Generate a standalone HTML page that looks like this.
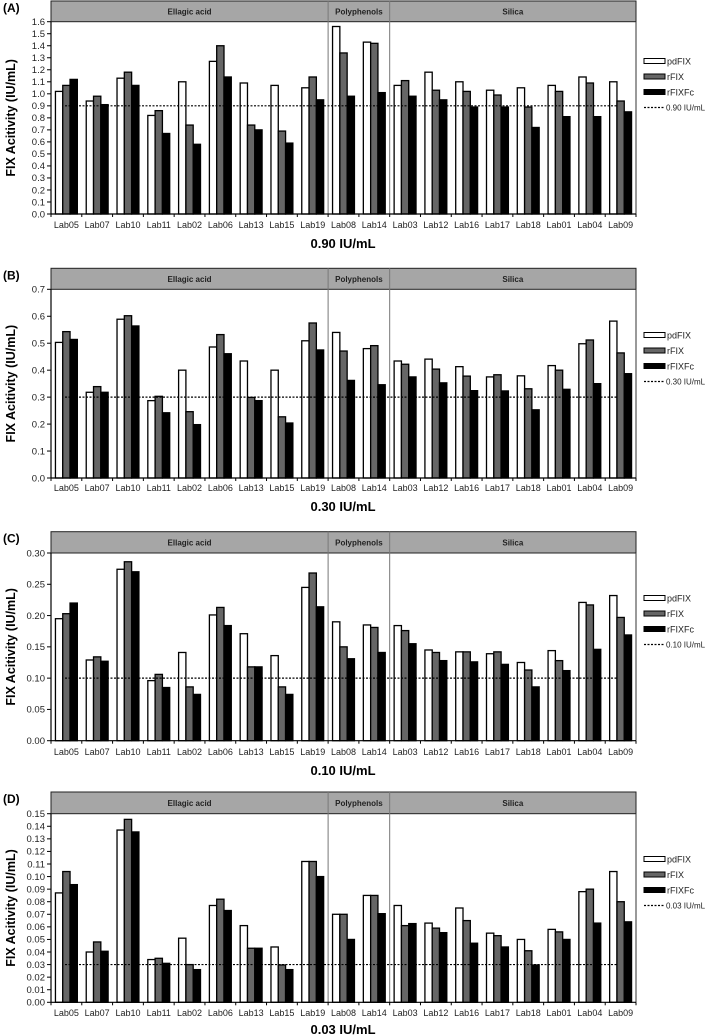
<!DOCTYPE html>
<html><head><meta charset="utf-8"><style>
body{margin:0;background:#fff;}
svg{display:block;font-family:"Liberation Sans",Arial,sans-serif;}
</style></head><body>
<svg id="chart" width="709" height="1036" viewBox="0 0 709 1036" xmlns="http://www.w3.org/2000/svg"></svg>
<script>
const categories = ["Lab05","Lab07","Lab10","Lab11","Lab02","Lab06","Lab13","Lab15","Lab19","Lab08","Lab14","Lab03","Lab12","Lab16","Lab17","Lab18","Lab01","Lab04","Lab09"];
const seriesNames = ["pdFIX","rFIX","rFIXFc"];
// Panel A (0.90 IU/mL)
const aPd = [1.02,0.94,1.13,0.82,1.10,1.27,1.09,1.07,1.05,1.56,1.43,1.07,1.18,1.10,1.03,1.05,1.07,1.14,1.10];
const aR  = [1.07,0.98,1.18,0.86,0.74,1.40,0.74,0.69,1.14,1.34,1.42,1.11,1.03,1.02,0.99,0.89,1.02,1.09,0.94];
const aFc = [1.12,0.91,1.07,0.67,0.58,1.14,0.70,0.59,0.95,0.98,1.01,0.98,0.95,0.89,0.89,0.72,0.81,0.81,0.85];
// Panel B (0.30 IU/mL)
const bPd = [0.503,0.318,0.589,0.287,0.400,0.486,0.434,0.400,0.509,0.540,0.480,0.434,0.441,0.413,0.375,0.379,0.417,0.498,0.582];
const bR  = [0.543,0.339,0.602,0.303,0.246,0.532,0.299,0.227,0.575,0.471,0.491,0.422,0.404,0.378,0.383,0.331,0.400,0.512,0.464];
const bFc = [0.514,0.318,0.564,0.242,0.198,0.461,0.287,0.204,0.475,0.362,0.346,0.375,0.353,0.324,0.323,0.253,0.329,0.350,0.387];
// Panel C (0.10 IU/mL)
const cPd = [0.195,0.129,0.274,0.096,0.141,0.201,0.171,0.136,0.245,0.190,0.185,0.184,0.145,0.142,0.139,0.125,0.144,0.221,0.232];
const cR  = [0.203,0.134,0.286,0.106,0.086,0.213,0.118,0.086,0.268,0.150,0.181,0.176,0.141,0.142,0.142,0.113,0.128,0.217,0.197];
const cFc = [0.220,0.127,0.270,0.085,0.074,0.184,0.118,0.074,0.214,0.131,0.141,0.155,0.128,0.126,0.122,0.086,0.112,0.146,0.169];
// Panel D (0.03 IU/mL)
const dPd = [0.087,0.040,0.137,0.034,0.051,0.077,0.061,0.044,0.112,0.070,0.085,0.077,0.063,0.075,0.055,0.050,0.058,0.088,0.104];
const dR  = [0.104,0.048,0.1455,0.035,0.030,0.082,0.043,0.0297,0.112,0.070,0.085,0.061,0.059,0.065,0.053,0.041,0.056,0.090,0.080];
const dFc = [0.0936,0.0406,0.1355,0.031,0.026,0.073,0.043,0.026,0.100,0.050,0.0705,0.0626,0.0554,0.047,0.044,0.0297,0.050,0.063,0.064];
const aTicks = ["0.0","0.1","0.2","0.3","0.4","0.5","0.6","0.7","0.8","0.9","1.0","1.1","1.2","1.3","1.4","1.5","1.6"];
const bTicks = ["0.0","0.1","0.2","0.3","0.4","0.5","0.6","0.7"];
const cTicks = ["0.00","0.05","0.10","0.15","0.20","0.25","0.30"];
const dTicks = ["0.00","0.01","0.02","0.03","0.04","0.05","0.06","0.07","0.08","0.09","0.10","0.11","0.12","0.13","0.14","0.15"];
const groups = ["Ellagic acid","Polyphenols","Silica"];
const groupSizes = [9,2,8];
const refValues = [0.90,0.30,0.10,0.03];
const refLabels = ["0.90 IU/mL","0.30 IU/mL","0.10 IU/mL","0.03 IU/mL"];
const panelLetters = ["(A)","(B)","(C)","(D)"];

const svg = document.getElementById('chart');
const NS = 'http://www.w3.org/2000/svg';
function mk(tag, attrs, parent, text){
  const e = document.createElementNS(NS, tag);
  for (const k in attrs) e.setAttribute(k, attrs[k]);
  if (text !== undefined) e.textContent = text;
  (parent || svg).appendChild(e);
  return e;
}
const X0 = 51, X1 = 636, N = categories.length, CW = (X1 - X0) / N, BW = 7.3;
const colors = ["#ffffff","#666666","#000000"];
const panels = [
  {hTop:1, top:21.7, zero:214, max:1.6, ticks:aTicks, data:[aPd,aR,aFc], labY:228, titleY:248, legY:61},
  {hTop:268.3, top:289.3, zero:478, max:0.7, ticks:bTicks, data:[bPd,bR,bFc], labY:491, titleY:511, legY:335},
  {hTop:531.7, top:553, zero:740.7, max:0.30, ticks:cTicks, data:[cPd,cR,cFc], labY:755, titleY:775, legY:598},
  {hTop:792, top:813.7, zero:1002.3, max:0.15, ticks:dTicks, data:[dPd,dR,dFc], labY:1016, titleY:1034, legY:859}
];
panels.forEach((p, pi) => {
  const g = mk('g', {});
  
  
  const yS = v => p.zero - v / p.max * (p.zero - p.top);
  const xC = i => X0 + CW * (i + 0.5);
  const pl = mk('text', {x:3, y:p.hTop + 11, 'font-size':12, 'font-weight':'bold'}, g, panelLetters[pi]);
  
  
  const hb = mk('rect', {x:X0, y:p.hTop, width:X1 - X0, height:p.top - p.hTop, fill:'#a6a6a6', stroke:'#222', 'stroke-width':1}, g);
  
  
  let start = 0;
  groups.forEach((gn, gi) => {
    const xa = X0 + start * CW, xb = X0 + (start + groupSizes[gi]) * CW;
    const t = mk('text', {x:(xa + xb) / 2, y:(p.hTop + p.top) / 2 + 3, 'font-size':8, 'font-weight':'bold', 'text-anchor':'middle', fill:'#222'}, g, gn);
    
    
    if (gi > 0) {
      const sl = mk('line', {x1:xa, x2:xa, y1:p.hTop, y2:p.zero, stroke:'#777', 'stroke-width':1}, g);
      
      
    }
    start += groupSizes[gi];
  });
  mk('line', {x1:X1, x2:X1, y1:p.top, y2:p.zero, stroke:'#333', 'stroke-width':1}, g);
  p.ticks.forEach((tl, ti) => {
    const y = p.zero - ti / (p.ticks.length - 1) * (p.zero - p.top);
    mk('line', {x1:47, x2:X0, y1:y, y2:y, stroke:'#000'}, g);
    const t = mk('text', {x:45, y:y + 3.3, 'font-size':9.5, 'text-anchor':'end', fill:'#222'}, g, tl);
    
    
  });
  const yt = mk('text', {x:0, y:0, 'font-size':12.5, 'font-weight':'bold', 'text-anchor':'middle', transform:`translate(15,${(p.top + p.zero) / 2}) rotate(-90)`}, g, 'FIX Acitivity (IU/mL)');
  
  
  p.data.forEach((arr, si) => {
    arr.forEach((v, i) => {
      const x = xC(i) - 1.5 * BW + si * BW;
      const y = yS(v);
      const r = mk('rect', {x:x, y:y, width:BW, height:p.zero - y, fill:colors[si], stroke:'#000', 'stroke-width':1.3}, g);
      
      
    });
  });
  const ry = yS(refValues[pi]);
  const rl = mk('line', {x1:65, x2:618, y1:ry, y2:ry, stroke:'#000', 'stroke-width':1.2, 'stroke-dasharray':'2,1.5'}, g);
  
  
  mk('line', {x1:X0, x2:X0, y1:p.top, y2:p.zero, stroke:'#000', 'stroke-width':1.2}, g);
  mk('line', {x1:X0, x2:X1, y1:p.zero, y2:p.zero, stroke:'#000', 'stroke-width':1.2}, g);
  for (let i = 0; i <= N; i++) {
    mk('line', {x1:X0 + i * CW, x2:X0 + i * CW, y1:p.zero, y2:p.zero + 3, stroke:'#000'}, g);
  }
  categories.forEach((c, i) => {
    const t = mk('text', {x:xC(i), y:p.labY, 'font-size':9, 'text-anchor':'middle', fill:'#222'}, g, c);
    
    
  });
  const tt = mk('text', {x:343, y:p.titleY, 'font-size':13, 'font-weight':'bold', 'text-anchor':'middle'}, g, refLabels[pi]);
  
  
  const lg = mk('g', {}, g);
  
  
  seriesNames.forEach((sn, si) => {
    const y = p.legY + si * 15.5;
    const sw = mk('rect', {x:644, y:y - 2.5, width:21, height:5, fill:colors[si], stroke:'#000', 'stroke-width':1}, lg);
    
    
    const t = mk('text', {x:667, y:y + 3.3, 'font-size':9, fill:'#222'}, lg, sn);
    
    
  });
  const ly = p.legY + 3 * 15.5;
  mk('line', {x1:644, x2:664, y1:ly, y2:ly, stroke:'#000', 'stroke-width':1.2, 'stroke-dasharray':'2,1.5'}, lg);
  const lt = mk('text', {x:666, y:ly + 3, 'font-size':8, fill:'#222'}, lg, refLabels[pi]);
  
  
});
</script>
</body></html>
